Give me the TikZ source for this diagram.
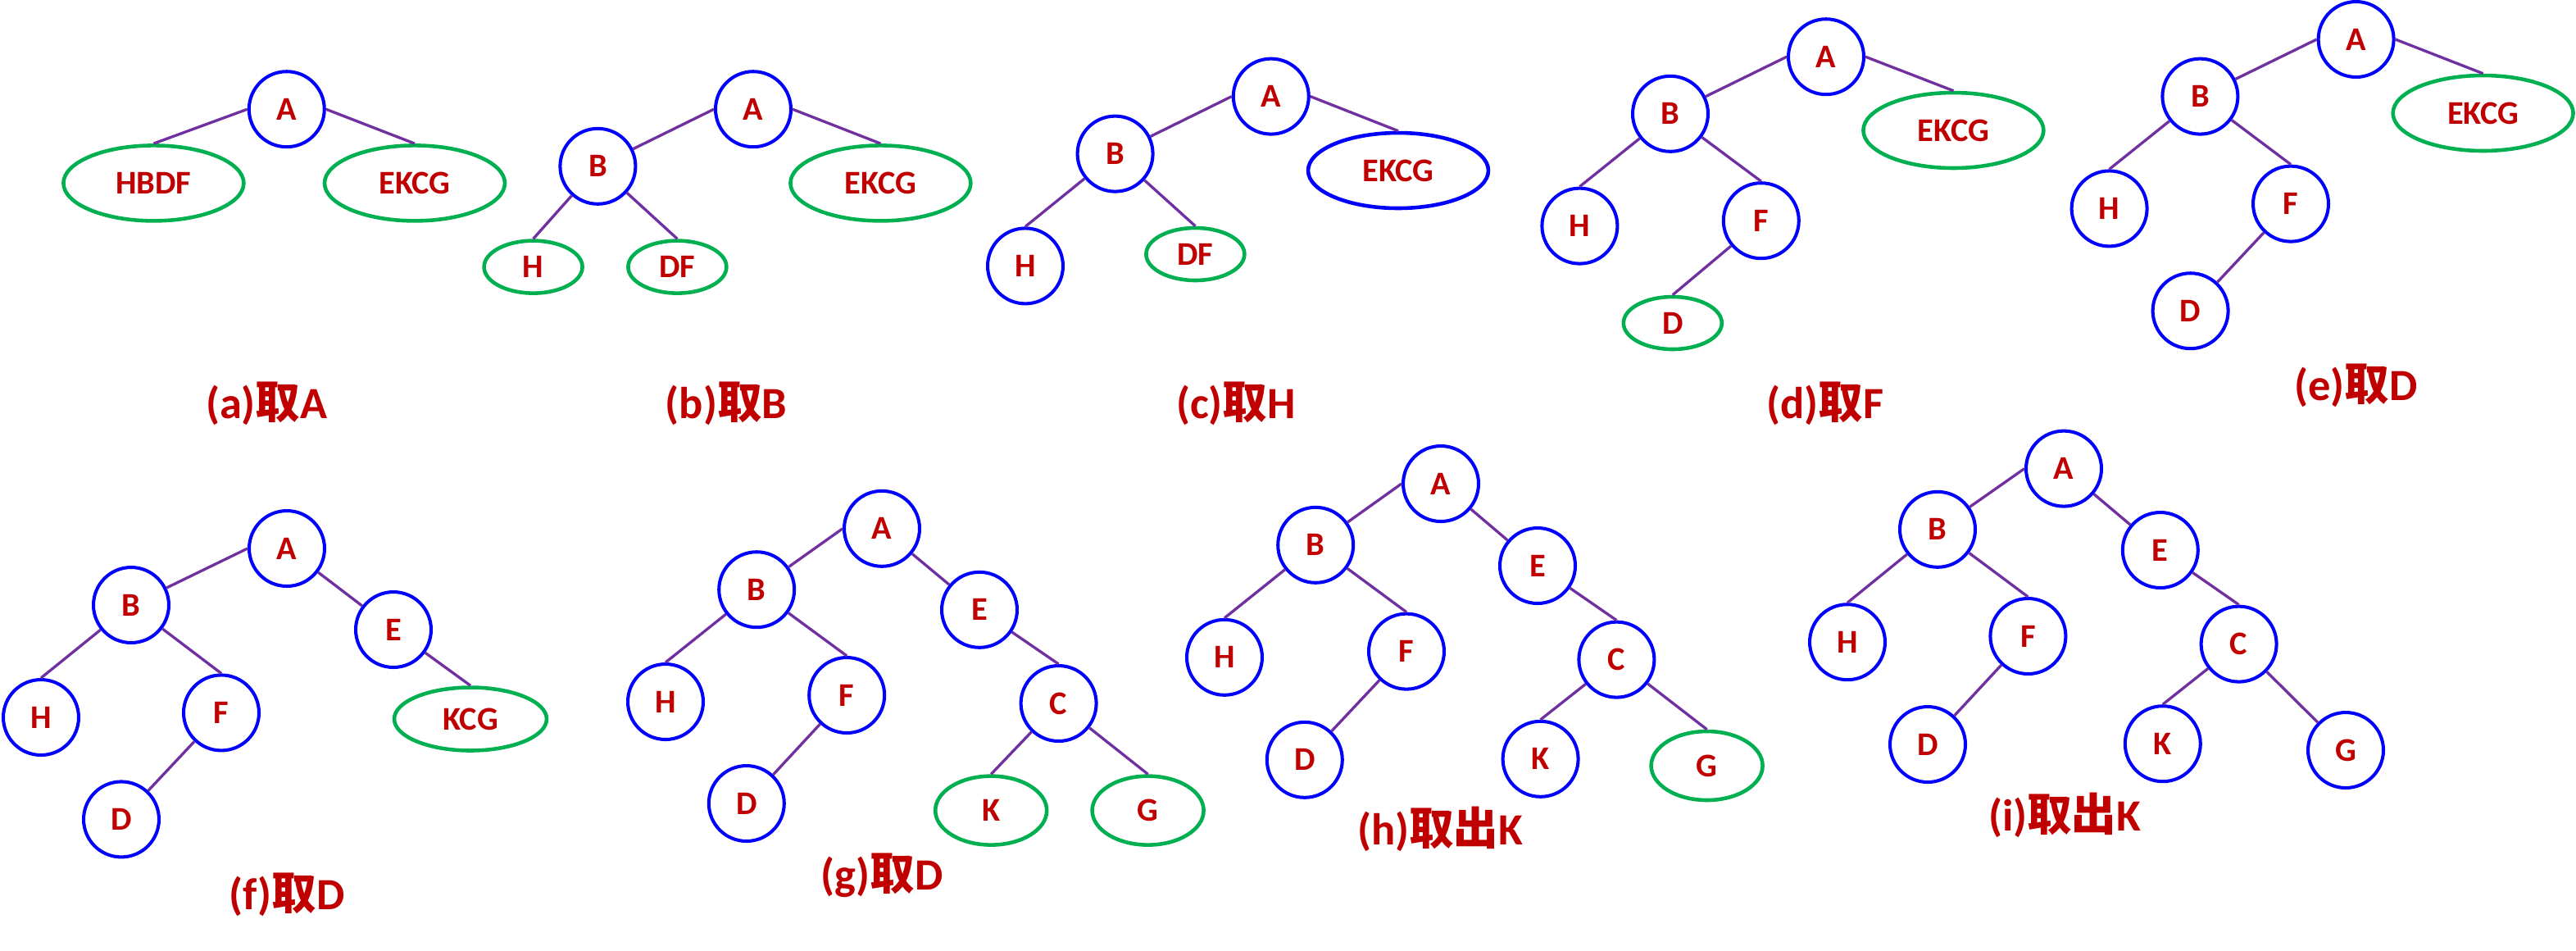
\documentclass[tikz,border=0pt]{standalone}
\usepackage{fontspec}
\setmainfont{Carlito}
\newfontfamily\cjk{Noto Sans CJK SC}
\usetikzlibrary{shapes.geometric}
\begin{document}
\begin{tikzpicture}
\newcommand{\xunit}{0.02}
\newcommand{\yunit}{-0.02}
\definecolor{vblue}{RGB}{0,0,255}
\definecolor{fgreen}{RGB}{0,176,80}
\definecolor{epurple}{RGB}{112,48,160}
\definecolor{lred}{RGB}{192,0,0}
\tikzstyle{vertex}=[draw=vblue,line width=1.15pt,circle,minimum size=0.92cm,inner sep=0pt,text=lred,font=\bfseries\fontsize{11.5}{12}\selectfont]
\tikzstyle{forest}=[vertex,ellipse,draw=fgreen,line width=1.3pt]
\tikzstyle{bigforest}=[forest,minimum width=2.2cm,minimum height=0.92cm]
\tikzstyle{smallforest}=[forest,minimum width=1.2cm,minimum height=0.64cm]
\tikzstyle{midforest}=[forest,minimum width=1.86cm,minimum height=0.77cm]
\tikzstyle{leafforest}=[forest,minimum width=1.36cm,minimum height=0.84cm]
\tikzstyle{edge}=[epurple,line width=0.95pt]
\tikzstyle{caption}=[text=lred,font=\bfseries\fontsize{15.5}{16}\selectfont]
\useasboundingbox (0,0) rectangle (\xunit*1571.5,\yunit*579.5);
% (a)
\node[vertex] (aA) at (\xunit*174.9,\yunit*66.6) {A};
\node[bigforest] (aHBDF) at (\xunit*93.7,\yunit*111.7) {HBDF};
\node[bigforest] (aEKCG) at (\xunit*253,\yunit*111.7) {EKCG};
\node[caption] (aCap) at (\xunit*162.6,\yunit*246) {(a){\cjk 取}A};
\draw[edge] (aA.west) edge (aHBDF.north);
\draw[edge] (aA.east) edge (aEKCG.north);
% (b)
\node[vertex] (bA) at (\xunit*459.5,\yunit*66.6) {A};
\node[vertex] (bB) at (\xunit*364.7,\yunit*101.4) {B};
\node[bigforest] (bEKCG) at (\xunit*537.2,\yunit*111.7) {EKCG};
\node[smallforest] (bH) at (\xunit*325.3,\yunit*162.8) {H};
\node[smallforest] (bDF) at (\xunit*413.2,\yunit*162.8) {DF};
\node[caption] (bCap) at (\xunit*443,\yunit*246) {(b){\cjk 取}B};
\draw[edge] (bA.west) edge (bB);
\draw[edge] (bA.east) edge (bEKCG.north);
\draw[edge] (bB) edge (bH.north);
\draw[edge] (bB) edge (bDF.north);
% (c)
\node[vertex] (cA) at (\xunit*775.4,\yunit*58.8) {A};
\node[vertex] (cB) at (\xunit*680.3,\yunit*93.8) {B};
\node[bigforest,draw=vblue,line width=1.3pt] (cEKCG) at (\xunit*853,\yunit*104) {EKCG};
\node[vertex] (cH) at (\xunit*625.5,\yunit*162.2) {H};
\node[smallforest] (cDF) at (\xunit*729.2,\yunit*155) {DF};
\node[caption] (cCap) at (\xunit*753.9,\yunit*246) {(c){\cjk 取}H};
\draw[edge] (cA.west) edge (cB);
\draw[edge] (cA.east) edge (cEKCG.north);
\draw[edge] (cB) edge (cH.north);
\draw[edge] (cB) edge (cDF.north);
% (d)
\node[vertex] (dA) at (\xunit*1114,\yunit*34.6) {A};
\node[vertex] (dB) at (\xunit*1019,\yunit*69.4) {B};
\node[bigforest] (dEKCG) at (\xunit*1191.7,\yunit*79.5) {EKCG};
\node[vertex] (dH) at (\xunit*963.7,\yunit*137.8) {H};
\node[vertex] (dF) at (\xunit*1074.4,\yunit*134.6) {F};
\node[smallforest] (dD) at (\xunit*1020.4,\yunit*197) {D};
\node[caption] (dCap) at (\xunit*1113.5,\yunit*246) {(d){\cjk 取}F};
\draw[edge] (dA.west) edge (dB);
\draw[edge] (dA.east) edge (dEKCG.north);
\draw[edge] (dB) edge (dH.north);
\draw[edge] (dB) edge (dF.north);
\draw[edge] (dF) edge (dD.north);
% (e)
\node[vertex] (eA) at (\xunit*1437.3,\yunit*24) {A};
\node[vertex] (eB) at (\xunit*1342.2,\yunit*58.8) {B};
\node[bigforest] (eEKCG) at (\xunit*1514.8,\yunit*69) {EKCG};
\node[vertex] (eH) at (\xunit*1286.8,\yunit*127.2) {H};
\node[vertex] (eF) at (\xunit*1397.5,\yunit*124.3) {F};
\node[vertex] (eD) at (\xunit*1336.3,\yunit*189.6) {D};
\node[caption] (eCap) at (\xunit*1437.3,\yunit*234.9) {(e){\cjk 取}D};
\draw[edge] (eA.west) edge (eB);
\draw[edge] (eA.east) edge (eEKCG.north);
\draw[edge] (eB) edge (eH.north);
\draw[edge] (eB) edge (eF.north);
\draw[edge] (eF) edge (eD);
% (f)
\node[vertex] (fA) at (\xunit*175,\yunit*334.5) {A};
\node[vertex] (fB) at (\xunit*80,\yunit*369) {B};
\node[vertex] (fE) at (\xunit*240,\yunit*384) {E};
\node[vertex] (fH) at (\xunit*25,\yunit*437.5) {H};
\node[vertex] (fF) at (\xunit*135,\yunit*434.7) {F};
\node[vertex] (fD) at (\xunit*74,\yunit*499.7) {D};
\node[midforest] (fKCG) at (\xunit*287,\yunit*438.5) {KCG};
\node[caption] (fCap) at (\xunit*175,\yunit*545.5) {(f){\cjk 取}D};
\draw[edge] (fA.west) edge (fB);
\draw[edge] (fA) edge (fE);
\draw[edge] (fB) edge (fH.north);
\draw[edge] (fB) edge (fF.north);
\draw[edge] (fF) edge (fD);
\draw[edge] (fE) edge (fKCG.north);
% (g)
\node[vertex] (gA) at (\xunit*538,\yunit*322.4) {A};
\node[vertex] (gB) at (\xunit*461.6,\yunit*359.6) {B};
\node[vertex] (gE) at (\xunit*597.5,\yunit*371.9) {E};
\node[vertex] (gH) at (\xunit*406,\yunit*428) {H};
\node[vertex] (gF) at (\xunit*516.6,\yunit*424) {F};
\node[vertex] (gD) at (\xunit*455.4,\yunit*490) {D};
\node[vertex] (gC) at (\xunit*645.8,\yunit*429) {C};
\node[leafforest] (gK) at (\xunit*604.6,\yunit*494.3) {K};
\node[leafforest] (gG) at (\xunit*700.3,\yunit*494.3) {G};
\node[caption] (gCap) at (\xunit*538,\yunit*534) {(g){\cjk 取}D};
\draw[edge] (gA.west) edge (gB);
\draw[edge] (gA) edge (gE);
\draw[edge] (gB) edge (gH.north);
\draw[edge] (gB) edge (gF.north);
\draw[edge] (gF) edge (gD);
\draw[edge] (gE) edge (gC.north);
\draw[edge] (gC) edge (gK.north);
\draw[edge] (gC) edge (gG.north);
% (h)
\node[vertex] (hA) at (\xunit*879,\yunit*295) {A};
\node[vertex] (hB) at (\xunit*802.6,\yunit*332.4) {B};
\node[vertex] (hE) at (\xunit*938,\yunit*345) {E};
\node[vertex] (hH) at (\xunit*747,\yunit*400.9) {H};
\node[vertex] (hF) at (\xunit*858,\yunit*397.3) {F};
\node[vertex] (hD) at (\xunit*795.9,\yunit*463.4) {D};
\node[vertex] (hC) at (\xunit*986.2,\yunit*402.3) {C};
\node[vertex] (hK) at (\xunit*939.8,\yunit*462.9) {K};
\node[leafforest] (hG) at (\xunit*1041.3,\yunit*467) {G};
\node[caption] (hCap) at (\xunit*878.5,\yunit*505.9) {(h){\cjk 取出}K};
\draw[edge] (hA.west) edge (hB);
\draw[edge] (hA) edge (hE);
\draw[edge] (hB) edge (hH.north);
\draw[edge] (hB) edge (hF.north);
\draw[edge] (hF) edge (hD);
\draw[edge] (hE) edge (hC.north);
\draw[edge] (hC) edge (hK.north);
\draw[edge] (hC) edge (hG.north);
% (i)
\node[vertex] (iA) at (\xunit*1259,\yunit*285.8) {A};
\node[vertex] (iB) at (\xunit*1182,\yunit*322.9) {B};
\node[vertex] (iE) at (\xunit*1317.9,\yunit*335.5) {E};
\node[vertex] (iH) at (\xunit*1127,\yunit*391.6) {H};
\node[vertex] (iF) at (\xunit*1237.2,\yunit*388) {F};
\node[vertex] (iD) at (\xunit*1176,\yunit*454) {D};
\node[vertex] (iC) at (\xunit*1365.8,\yunit*392.8) {C};
\node[vertex] (iK) at (\xunit*1319.4,\yunit*453.6) {K};
\node[vertex] (iG) at (\xunit*1431,\yunit*457.5) {G};
\node[caption] (iCap) at (\xunit*1259.5,\yunit*497) {(i){\cjk 取出}K};
\draw[edge] (iA.west) edge (iB);
\draw[edge] (iA) edge (iE);
\draw[edge] (iB) edge (iH.north);
\draw[edge] (iB) edge (iF.north);
\draw[edge] (iF) edge (iD);
\draw[edge] (iE) edge (iC.north);
\draw[edge] (iC) edge (iK.north);
\draw[edge] (iC) edge (iG);
\end{tikzpicture}
\end{document}
